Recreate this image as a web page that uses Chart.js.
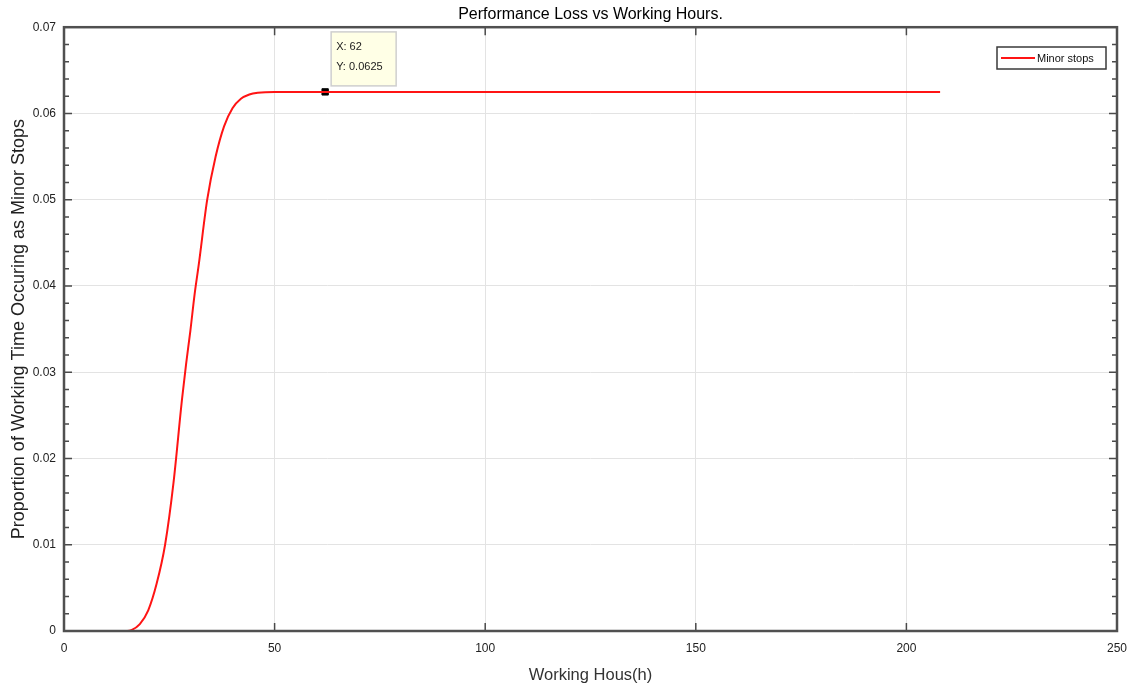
<!DOCTYPE html>
<html>
<head>
<meta charset="utf-8">
<script src="https://cdn.jsdelivr.net/npm/chart.js@4/dist/chart.umd.min.js"></script>
<style>
  html, body { margin: 0; padding: 0; background: #fff; }
</style>
</head>
<body>
<canvas id="chart" width="1132" height="688"></canvas>
<script>
// working hours (h) and proportion of time lost to minor stops
const hours = [0, 5, 10, 15, 16, 18, 20, 22, 24, 26, 28, 29, 30, 31, 32, 34, 36, 38, 40, 42, 44, 46, 50, 62, 100, 150, 208];
const proportion = [0, 0, 0, 0, 0.0001, 0.0008, 0.0024, 0.0055, 0.0100, 0.0172, 0.0268, 0.0310, 0.0348, 0.0390, 0.0425, 0.0500, 0.0550, 0.0585, 0.0606, 0.0617, 0.0622, 0.0624, 0.0625, 0.0625, 0.0625, 0.0625, 0.0625];
const tipPoint = { x: 62, y: 0.0625 };
const xTicks = [0, 50, 100, 150, 200, 250];
const yTicks = [0, 0.01, 0.02, 0.03, 0.04, 0.05, 0.06, 0.07];

const font = 'Arial, "Liberation Sans", sans-serif';

const matlabAxes = {
  id: 'matlabAxes',
  afterDatasetsDraw(chart) {
    const ctx = chart.ctx;
    const a = chart.chartArea;
    const xs = chart.scales.x, ys = chart.scales.y;
    ctx.save();
    ctx.strokeStyle = '#4a4a4a';
    ctx.lineWidth = 1.5;
    ctx.beginPath();
    // major ticks on x (bottom and top)
    xTicks.forEach(v => {
      const px = xs.getPixelForValue(v);
      ctx.moveTo(px, a.bottom); ctx.lineTo(px, a.bottom - 8);
      ctx.moveTo(px, a.top); ctx.lineTo(px, a.top + 8);
    });
    // y ticks incl. minor (step 0.002)
    for (let i = 0; i <= 35; i++) {
      const v = i * 0.002;
      const py = ys.getPixelForValue(v);
      const len = (i % 5 === 0) ? 8 : 5;
      ctx.moveTo(a.left, py); ctx.lineTo(a.left + len, py);
      ctx.moveTo(a.right, py); ctx.lineTo(a.right - len, py);
    }
    ctx.stroke();
    ctx.lineWidth = 2.5;
    ctx.strokeStyle = '#505050';
    ctx.strokeRect(a.left, a.top, a.right - a.left, a.bottom - a.top);
    ctx.restore();
  },
  afterDraw(chart) {
    const ctx = chart.ctx;
    const xs = chart.scales.x, ys = chart.scales.y;
    ctx.save();
    // data tip box
    const mx = xs.getPixelForValue(tipPoint.x);
    const my = ys.getPixelForValue(tipPoint.y);
    const bx = mx + 6, by = my - 60, bw = 65, bh = 54;
    ctx.fillStyle = '#ffffe6';
    ctx.fillRect(bx, by, bw, bh);
    ctx.strokeStyle = '#cfcfcf';
    ctx.lineWidth = 1.5;
    ctx.strokeRect(bx, by, bw, bh);
    ctx.fillStyle = '#1a1a1a';
    ctx.font = '11px ' + font;
    ctx.textBaseline = 'middle';
    ctx.textAlign = 'left';
    ctx.fillText('X: ' + tipPoint.x, bx + 5, by + 15);
    ctx.fillText('Y: ' + tipPoint.y, bx + 5, by + 35);
    // legend
    const ds = chart.data.datasets[0];
    const lx = 997, ly = 47, lw = 109, lh = 22;
    ctx.fillStyle = '#fff';
    ctx.fillRect(lx, ly, lw, lh);
    ctx.strokeStyle = '#3a3a3a';
    ctx.lineWidth = 1.5;
    ctx.strokeRect(lx, ly, lw, lh);
    ctx.strokeStyle = ds.borderColor;
    ctx.lineWidth = 2;
    ctx.beginPath();
    ctx.moveTo(lx + 4, ly + lh / 2); ctx.lineTo(lx + 38, ly + lh / 2);
    ctx.stroke();
    ctx.fillStyle = '#111';
    ctx.font = '11px ' + font;
    ctx.fillText(ds.label, lx + 40, ly + lh / 2 + 1);
    ctx.restore();
  }
};

new Chart(document.getElementById('chart'), {
  type: 'scatter',
  data: {
    datasets: [
      {
        label: 'Minor stops',
        data: hours.map((h, i) => ({ x: h, y: proportion[i] })),
        showLine: true,
        borderColor: 'rgb(255, 20, 20)',
        borderWidth: 2,
        pointRadius: 0,
        cubicInterpolationMode: 'monotone'
      },
      {
        label: 'tip',
        data: [tipPoint],
        pointStyle: 'rect',
        pointRadius: 4.5,
        backgroundColor: '#000',
        borderColor: '#000'
      }
    ]
  },
  options: {
    responsive: false,
    animation: false,
    layout: { padding: { top: 0, right: 15, left: 0, bottom: 0 } },
    plugins: {
      legend: { display: false },
      tooltip: { enabled: false },
      title: {
        display: true,
        fullSize: false,
        text: 'Performance Loss vs Working Hours.',
        color: '#000',
        font: { family: font, size: 16, weight: 'normal' },
        padding: { top: 5, bottom: 3 }
      }
    },
    scales: {
      x: {
        type: 'linear',
        min: 0,
        max: 250,
        afterFit: s => { s.height = 57; s.paddingRight = 0; s.paddingLeft = 0; },
        afterBuildTicks: s => { s.ticks = xTicks.map(v => ({ value: v })); },
        grid: { color: '#e3e3e3', drawTicks: false },
        border: { display: false },
        ticks: { color: '#222', font: { family: font, size: 12 }, padding: 10 },
        title: {
          display: true,
          text: 'Working Hous(h)',
          color: '#333',
          font: { family: font, size: 16.5 },
          padding: { top: 0, bottom: 3 }
        }
      },
      y: {
        min: 0,
        max: 0.07,
        afterFit: s => { s.width = 64; },
        afterBuildTicks: s => { s.ticks = yTicks.map(v => ({ value: v })); },
        grid: { color: '#e3e3e3', drawTicks: false },
        border: { display: false },
        ticks: {
          color: '#222',
          font: { family: font, size: 12 },
          padding: 8,
          callback: v => String(Math.round(v * 100) / 100)
        },
        title: {
          display: true,
          text: 'Proportion of Working Time Occuring as Minor Stops',
          color: '#222',
          font: { family: font, size: 18 },
          padding: { top: 8, bottom: 0 }
        }
      }
    }
  },
  plugins: [matlabAxes]
});
</script>
</body>
</html>
